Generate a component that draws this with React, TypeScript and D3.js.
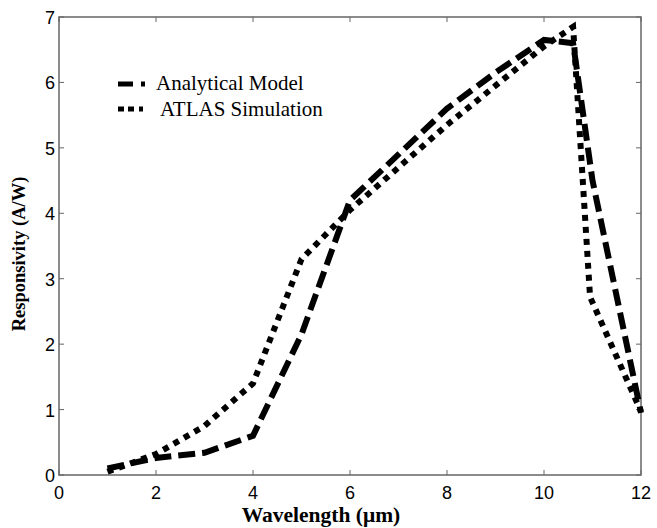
import React, { useEffect, useRef } from 'react';
import * as d3 from 'd3';

// Analytical model (dashed)
const modelX = [1, 2, 3, 4, 5, 6, 7, 8, 9, 10, 10.6, 11, 12];
const modelY = [0.1, 0.26, 0.34, 0.6, 2.15, 4.2, 4.9, 5.6, 6.15, 6.65, 6.6, 4.5, 0.95];

// ATLAS simulation (dotted)
const atlasX = [1, 2, 3, 4, 5, 6, 7, 8, 9, 10, 10.6, 10.95, 12];
const atlasY = [0.05, 0.32, 0.75, 1.4, 3.3, 4.05, 4.7, 5.35, 5.95, 6.55, 6.85, 2.72, 0.97];

const xTicks = [0, 2, 4, 6, 8, 10, 12];
const yTicks = [0, 1, 2, 3, 4, 5, 6, 7];

const seriesNames = ['Analytical Model', 'ATLAS Simulation'];

function App() {
  const svgRef = useRef<SVGSVGElement>(null);

  useEffect(() => {
    const svg = d3.select(svgRef.current);
    svg.selectAll('*').remove();

    const left = 59, right = 641, top = 17, bottom = 475;
    const x = d3.scaleLinear().domain([0, 12]).range([left, right]);
    const y = d3.scaleLinear().domain([0, 7]).range([bottom, top]);
    const axisColor = '#666';
    const serif = 'Liberation Serif, Times New Roman, serif';

    // frame
    svg.append('rect')
      .attr('x', left).attr('y', top)
      .attr('width', right - left).attr('height', bottom - top)
      .attr('fill', 'none').attr('stroke', axisColor).attr('stroke-width', 1.5);

    // ticks (inward, all sides)
    xTicks.forEach(t => {
      svg.append('line').attr('x1', x(t)).attr('x2', x(t)).attr('y1', bottom).attr('y2', bottom - 5)
        .attr('stroke', axisColor);
      svg.append('line').attr('x1', x(t)).attr('x2', x(t)).attr('y1', top).attr('y2', top + 5)
        .attr('stroke', axisColor);
      svg.append('text').attr('x', x(t)).attr('y', bottom + 24)
        .attr('text-anchor', 'middle')
        .style('font-family', 'Liberation Sans, Arial, sans-serif').style('font-size', '18px')
        .text(t);
    });
    yTicks.forEach(t => {
      svg.append('line').attr('x1', left).attr('x2', left + 5).attr('y1', y(t)).attr('y2', y(t))
        .attr('stroke', axisColor);
      svg.append('line').attr('x1', right).attr('x2', right - 5).attr('y1', y(t)).attr('y2', y(t))
        .attr('stroke', axisColor);
      svg.append('text').attr('x', left - 4).attr('y', y(t) + 7)
        .attr('text-anchor', 'end')
        .style('font-family', 'Liberation Sans, Arial, sans-serif').style('font-size', '18px')
        .text(t);
    });

    const line = d3.line<[number, number]>().x(d => x(d[0])).y(d => y(d[1]));

    svg.append('path')
      .datum(modelX.map((v, i) => [v, modelY[i]] as [number, number]))
      .attr('d', line)
      .attr('fill', 'none').attr('stroke', '#000').attr('stroke-width', 6)
      .attr('stroke-dasharray', '17,7');

    svg.append('path')
      .datum(atlasX.map((v, i) => [v, atlasY[i]] as [number, number]))
      .attr('d', line)
      .attr('fill', 'none').attr('stroke', '#000').attr('stroke-width', 6)
      .attr('stroke-dasharray', '6,6');

    // legend
    const leg = svg.append('g').style('font-family', serif).style('font-size', '21px');
    leg.append('line').attr('x1', 118).attr('x2', 146).attr('y1', 84).attr('y2', 84)
      .attr('stroke', '#000').attr('stroke-width', 5).attr('stroke-dasharray', '15,8,4,20');
    leg.append('text').attr('x', 156).attr('y', 90).text(seriesNames[0]);
    leg.append('line').attr('x1', 118).attr('x2', 146).attr('y1', 109).attr('y2', 109)
      .attr('stroke', '#000').attr('stroke-width', 5).attr('stroke-dasharray', '6,4,6,5,4,20');
    leg.append('text').attr('x', 160).attr('y', 116).text(seriesNames[1]);

    // axis titles
    svg.append('text').attr('x', 321).attr('y', 522).attr('text-anchor', 'middle')
      .style('font-family', serif)
      .style('font-size', '21.5px').style('font-weight', 'bold')
      .text('Wavelength (μm)');
    svg.append('text').attr('transform', 'translate(25,254) rotate(-90)').attr('text-anchor', 'middle')
      .style('font-family', serif)
      .style('font-size', '18.5px').style('font-weight', 'bold')
      .text('Responsivity (A/W)');
  }, []);

  return (
    <svg ref={svgRef} width={657} height={528}
      style={{ position: 'absolute', left: 0, top: 0, background: '#fff' }} />
  );
}

export default App;
